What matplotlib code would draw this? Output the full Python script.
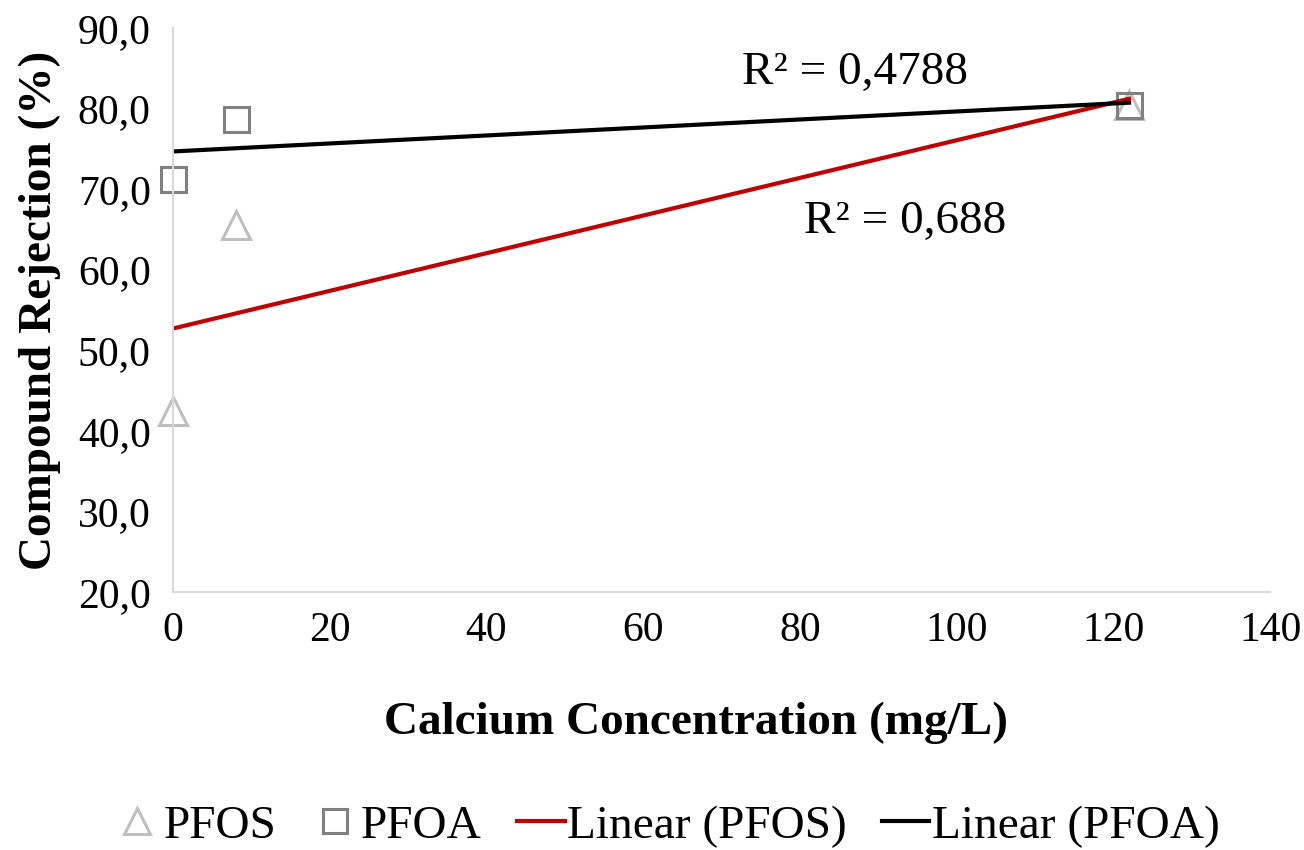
import numpy as np
import matplotlib.pyplot as plt

# Data
calcium = [0, 8, 122]
pfos = [42.5, 65.5, 80.5]
pfoa = [71.3, 78.7, 80.5]

plt.rcParams['font.family'] = ['Liberation Serif', 'DejaVu Serif']

fig = plt.figure(figsize=(13.04, 8.5), dpi=100)
ax = fig.add_axes([0.1327, 0.3035, 0.974 - 0.1327, 0.967 - 0.3035])

ax.plot(calcium, pfos, linestyle='none', marker='^', markersize=20,
        markerfacecolor='none', markeredgecolor='#bfbfbf', markeredgewidth=2.2,
        label='PFOS', clip_on=False)
ax.plot(calcium, pfoa, linestyle='none', marker='s', markersize=18,
        markerfacecolor='none', markeredgecolor='#808080', markeredgewidth=2.2,
        label='PFOA', clip_on=False)

# linear trend lines
xs = np.array([min(calcium), max(calcium)])
k1, b1 = np.polyfit(calcium, pfos, 1)
k2, b2 = np.polyfit(calcium, pfoa, 1)
ax.plot(xs, k1 * xs + b1, color='#c00000', linewidth=3, label='Linear (PFOS)')
ax.plot(xs, k2 * xs + b2, color='black', linewidth=3, label='Linear (PFOA)')

ax.text(87, 84.5, 'R² = 0,4788', fontsize=34, ha='center', va='center')
ax.text(93.4, 66.0, 'R² = 0,688', fontsize=34, ha='center', va='center')

ax.set_xlim(0, 140)
ax.set_ylim(20, 90)
ax.set_xticks(range(0, 141, 20))
ax.set_yticks(range(20, 91, 10))
ax.set_yticklabels([f'{v:.1f}'.replace('.', ',') for v in range(20, 91, 10)])
ax.tick_params(length=0, labelsize=30, pad=16)
ax.tick_params(axis='x', pad=14)

for s in ['top', 'right']:
    ax.spines[s].set_visible(False)
for s in ['left', 'bottom']:
    ax.spines[s].set_color('#d9d9d9')
    ax.spines[s].set_linewidth(1.5)

ax.set_xlabel('Calcium Concentration (mg/L)', fontsize=34, fontweight='bold')
ax.xaxis.set_label_coords(0.477, -0.195)
ax.set_ylabel('Compound Rejection (%)', fontsize=34, fontweight='bold', labelpad=12)

ax.legend(loc='center', bbox_to_anchor=(0.45, -0.415), ncol=4, frameon=False,
          fontsize=34, handlelength=1.0, handletextpad=0.05, columnspacing=0.75,
          markerscale=0.95, borderpad=0.2)

fig.savefig('out.png', dpi=100)
